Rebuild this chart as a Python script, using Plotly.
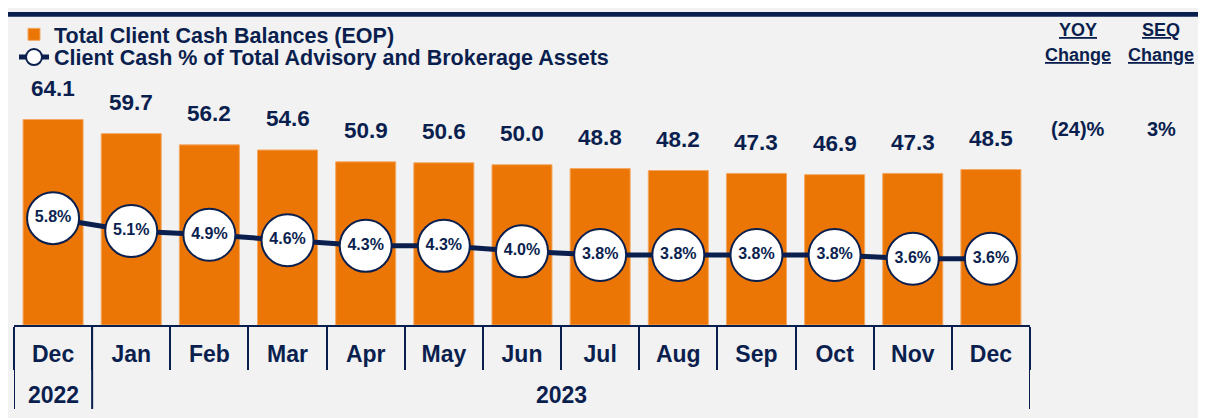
import plotly.graph_objects as go

# ---- data ----
months = ["Dec", "Jan", "Feb", "Mar", "Apr", "May", "Jun", "Jul", "Aug", "Sep", "Oct", "Nov", "Dec"]
years = ["2022"] + ["2023"] * 12
cash_balances = [64.1, 59.7, 56.2, 54.6, 50.9, 50.6, 50.0, 48.8, 48.2, 47.3, 46.9, 47.3, 48.5]
cash_pct = [5.8, 5.1, 4.9, 4.6, 4.3, 4.3, 4.0, 3.8, 3.8, 3.8, 3.8, 3.6, 3.6]
pct_labels = ["5.8%", "5.1%", "4.9%", "4.6%", "4.3%", "4.3%", "4.0%", "3.8%", "3.8%", "3.8%", "3.8%", "3.6%", "3.6%"]
yoy_change = "(24)%"
seq_change = "3%"

NAVY = "#0B1F4F"
ORANGE = "#EB7505"
BG = "#F2F2F2"
FONT = "Liberation Sans, Arial, sans-serif"

OFF = 8  # page body margin
W, H = 1198, 410
ML, MR, MT, MB = 6, 176, 72, 93
PW = W - ML - MR
PH = H - MT - MB


def px_x(p):  # screenshot px -> paper x
    return (p - OFF - ML) / PW


def px_y(p):  # screenshot px -> paper y
    return (H - MB - (p - OFF)) / PH


idx = list(range(len(months)))
bounds = [i - 0.5 for i in range(len(months) + 1)]

legend_font = dict(family=FONT, size=21.5, color=NAVY, weight="bold")

fig = go.Figure()
fig.add_trace(go.Bar(
    x=idx, y=cash_balances, name="Total Client Cash Balances (EOP)",
    marker=dict(color=ORANGE, line=dict(color="#F4A862", width=1)),
    hoverinfo="skip", legend="legend",
))
fig.add_trace(go.Scatter(
    x=idx, y=cash_pct, yaxis="y2", mode="lines+markers+text",
    name="Client Cash % of Total Advisory and Brokerage Assets",
    line=dict(color=NAVY, width=5),
    marker=dict(size=52, color="white", line=dict(color=NAVY, width=2)),
    text=pct_labels, textposition="middle center",
    textfont=dict(family=FONT, size=16, color=NAVY, weight="bold"),
    cliponaxis=False, hoverinfo="skip", legend="legend2",
))

# bar value labels
for i, v in zip(idx, cash_balances):
    fig.add_annotation(x=i, y=v, xref="x", yref="y", text=f"{v:.1f}",
                       showarrow=False, yshift=31, yanchor="middle",
                       font=dict(family=FONT, size=22.5, color=NAVY, weight="bold"))

fig.update_layout(
    width=W, height=H,
    margin=dict(l=ML, r=MR, t=MT, b=MB),
    paper_bgcolor=BG, plot_bgcolor=BG,
    bargap=0.232,
    font=dict(family=FONT, color=NAVY),
    showlegend=True,
    legend=dict(
        x=0, y=px_y(10), xanchor="left", yanchor="top",
        bgcolor="rgba(0,0,0,0)", font=legend_font, itemwidth=30,
    ),
    legend2=dict(
        x=0, y=px_y(33), xanchor="left", yanchor="top",
        bgcolor="rgba(0,0,0,0)", font=legend_font, itemwidth=30,
    ),
    xaxis=dict(
        range=[-0.5, len(months) - 0.5],
        tickmode="array", tickvals=idx, ticktext=months,
        ticks="", ticklabelstandoff=7,
        showline=True, linecolor=NAVY, linewidth=2,
        tickfont=dict(family=FONT, size=23, color=NAVY, weight="bold"),
        minor=dict(tickmode="array", tickvals=bounds, ticks="outside",
                   ticklen=43, tickwidth=2, tickcolor=NAVY, showgrid=False),
        showgrid=False, zeroline=False, fixedrange=True,
    ),
    yaxis=dict(range=[0, 75.5], visible=False, showgrid=False, zeroline=False),
    yaxis2=dict(range=[0, 13.14], overlaying="y", visible=False, showgrid=False, zeroline=False),
)

# year group dividers and labels (computed from the years list)
groups = []
for i, yv in enumerate(years):
    if not groups or groups[-1][0] != yv:
        groups.append([yv, i, i])
    else:
        groups[-1][2] = i
div_pos = sorted({g[1] - 0.5 for g in groups} | {g[2] + 0.5 for g in groups})
for xb in div_pos:
    fig.add_shape(type="line", xref="x", yref="paper", x0=xb, x1=xb,
                  y0=px_y(410), y1=0, line=dict(color=NAVY, width=2))
for yv, a, b in groups:
    fig.add_annotation(x=(a + b) / 2, y=px_y(396), xref="x", yref="paper",
                       text=yv, showarrow=False, yanchor="middle",
                       font=dict(family=FONT, size=23, color=NAVY, weight="bold"))

# header bar
fig.add_shape(type="rect", xref="paper", yref="paper",
              x0=px_x(OFF), x1=px_x(OFF + W), y0=px_y(OFF + 5), y1=px_y(OFF),
              fillcolor=NAVY, line_width=0, layer="above")

# right side change columns
hdr_font = dict(family=FONT, size=18, color=NAVY, weight="bold")
val_font = dict(family=FONT, size=20, color=NAVY, weight="bold")
for cx, head, val in [(1078, "YOY", yoy_change), (1161, "SEQ", seq_change)]:
    fig.add_annotation(xref="paper", yref="paper", x=px_x(cx), y=px_y(26),
                       text=f"<u>{head}</u>", showarrow=False,
                       font=hdr_font, xanchor="center", yanchor="middle")
    fig.add_annotation(xref="paper", yref="paper", x=px_x(cx), y=px_y(52),
                       text="<u>Change</u>", showarrow=False,
                       font=hdr_font, xanchor="center", yanchor="middle")
    fig.add_annotation(xref="paper", yref="paper", x=px_x(cx), y=px_y(127),
                       text=val, showarrow=False,
                       font=val_font, xanchor="center", yanchor="middle")

fig.write_html("out.html")
